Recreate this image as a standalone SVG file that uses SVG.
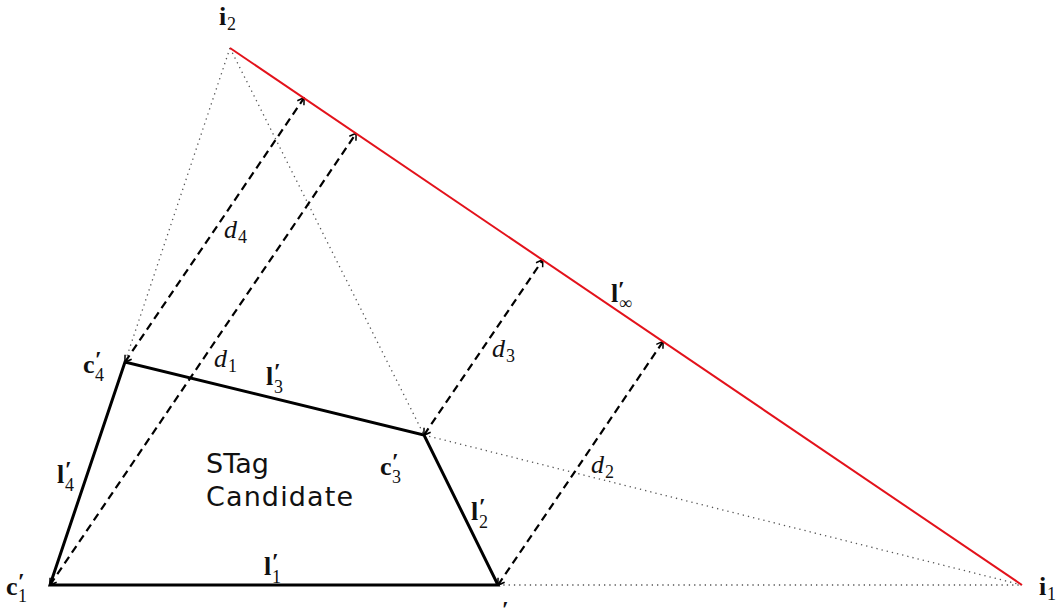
<svg xmlns="http://www.w3.org/2000/svg" width="1058" height="611" viewBox="0 0 1058 611">
<style>
.bg{fill:#ffffff}
.dot{stroke:#555;stroke-width:1.3;stroke-dasharray:1.3 4;fill:none}
.red{stroke:#e3121b;stroke-width:2;fill:none}
.dash{stroke:#000;stroke-width:2.2;stroke-dasharray:8 5;fill:none;marker-start:url(#ah);marker-end:url(#ah)}
.quad{stroke:#000;stroke-width:3;fill:none;stroke-linejoin:miter}
.m{font-family:"Liberation Serif","DejaVu Serif",serif;font-size:26px;fill:#111}
.b{font-weight:bold}
.i{font-style:italic}
.s{font-size:18px;font-weight:normal}
.pr{font-size:24px;font-weight:bold}
.sans{font-family:"DejaVu Sans","Liberation Sans",sans-serif;font-size:27px;fill:#111}
</style>
<defs>
<marker id="ah" viewBox="-7 -5 8 10" markerWidth="8" markerHeight="10" refX="0" refY="0" orient="auto-start-reverse" markerUnits="userSpaceOnUse">
<path d="M -6 -4 Q -2 -1.5 0 0 Q -2 1.5 -6 4" stroke="#000" stroke-width="1.5" fill="none"/>
</marker>
</defs>
<rect class="bg" x="0" y="0" width="1058" height="611"/>
<g id="connectors">
<line class="dot" x1="230" y1="48" x2="125" y2="362"/>
<line class="dot" x1="230" y1="48" x2="424" y2="435"/>
<line class="dot" x1="424" y1="435" x2="1022" y2="585"/>
<line class="dot" x1="498" y1="585" x2="1022" y2="585"/>
<line class="dash" x1="50" y1="585" x2="356" y2="133.5"/>
<line class="dash" x1="125" y1="362" x2="304" y2="98"/>
<line class="dash" x1="424" y1="435" x2="542.7" y2="260"/>
<line class="dash" x1="498" y1="585" x2="663" y2="341.6"/>
</g>
<g id="line-inf">
<line class="red" x1="230" y1="48" x2="1022" y2="585"/>
<text class="m b" x="611" y="302">l<tspan class="pr" x="618" y="297">′</tspan><tspan class="s" x="619" y="309">∞</tspan></text>
</g>
<g id="stag-candidate">
<polygon class="quad" points="50,585 498,585 424,435 125,362"/>
<text class="sans" x="206" y="473">STag</text>
<text class="sans" x="206" y="506" textLength="147" lengthAdjust="spacing">Candidate</text>
</g>
<g id="i2"><text class="m b" x="219" y="25">i<tspan class="s" x="227" y="30">2</tspan></text></g>
<g id="i1"><text class="m b" x="1039" y="595">i<tspan class="s" x="1047" y="600">1</tspan></text></g>
<g id="c1"><text class="m b" x="6" y="595">c<tspan class="pr" x="18" y="589">′</tspan><tspan class="s" x="18" y="602">1</tspan></text></g>
<g id="c2"><text class="m b" x="490" y="623">c<tspan class="pr" x="502" y="617">′</tspan></text></g>
<g id="c3"><text class="m b" x="380" y="475">c<tspan class="pr" x="392" y="469">′</tspan><tspan class="s" x="392" y="483">3</tspan></text></g>
<g id="c4"><text class="m b" x="83" y="373">c<tspan class="pr" x="95" y="367">′</tspan><tspan class="s" x="95" y="381">4</tspan></text></g>
<g id="l1"><text class="m b" x="264" y="575">l<tspan class="pr" x="272" y="569">′</tspan><tspan class="s" x="272" y="583">1</tspan></text></g>
<g id="l2"><text class="m b" x="471" y="520">l<tspan class="pr" x="479" y="514">′</tspan><tspan class="s" x="479" y="528">2</tspan></text></g>
<g id="l3"><text class="m b" x="266" y="385">l<tspan class="pr" x="274" y="379">′</tspan><tspan class="s" x="274" y="393">3</tspan></text></g>
<g id="l4"><text class="m b" x="57" y="483">l<tspan class="pr" x="65" y="477">′</tspan><tspan class="s" x="65" y="491">4</tspan></text></g>
<g id="d1"><text class="m i" x="214" y="367">d<tspan class="s" font-style="normal" x="228" y="372">1</tspan></text></g>
<g id="d2"><text class="m i" x="591" y="473">d<tspan class="s" font-style="normal" x="605" y="478">2</tspan></text></g>
<g id="d3"><text class="m i" x="492" y="357">d<tspan class="s" font-style="normal" x="506" y="362">3</tspan></text></g>
<g id="d4"><text class="m i" x="224" y="238">d<tspan class="s" font-style="normal" x="238" y="243">4</tspan></text></g>
</svg>
